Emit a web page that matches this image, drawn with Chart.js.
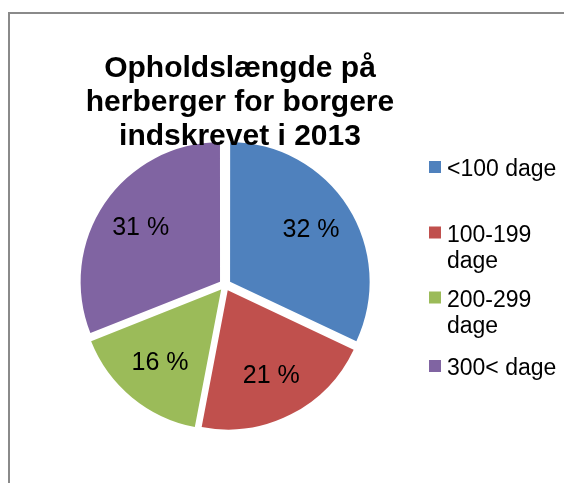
<!DOCTYPE html>
<html>
<head>
<meta charset="utf-8">
<script src="https://cdn.jsdelivr.net/npm/chart.js@4/dist/chart.umd.min.js"></script>
<style>
  html, body { margin: 0; padding: 0; background: #fff; }
  canvas { display: block; }
</style>
</head>
<body>
<canvas id="c" width="564" height="483"></canvas>
<script>
// ---- data ----
const categories = ['<100 dage', '100-199 dage', '200-299 dage', '300< dage'];
const shares = [32, 21, 16, 31];
const colors = ['#4F81BD', '#C0504D', '#9BBB59', '#8064A2'];
const titleLines = ['Opholdslængde på', 'herberger for borgere', 'indskrevet i 2013'];

const FONT = '"Liberation Sans", Arial, sans-serif';

const decor = {
  id: 'decor',
  beforeDraw(chart) {
    const ctx = chart.ctx;
    ctx.save();
    ctx.fillStyle = '#fff';
    ctx.fillRect(0, 0, chart.width, chart.height);
    ctx.strokeStyle = '#8a8a8a';
    ctx.lineWidth = 2;
    ctx.strokeRect(9, 13, 700, 700);
    ctx.restore();
  },
  afterDatasetsDraw(chart) {
    const ctx = chart.ctx;
    const meta = chart.getDatasetMeta(0);
    ctx.save();
    ctx.fillStyle = '#000';
    ctx.font = '25px ' + FONT;
    ctx.textAlign = 'center';
    ctx.textBaseline = 'middle';
    meta.data.forEach((arc, i) => {
      const mid = (arc.startAngle + arc.endAngle) / 2;
      const d = arc.outerRadius * 0.69 + 6;
      ctx.fillText(shares[i] + ' %', arc.x + Math.cos(mid) * d, arc.y + Math.sin(mid) * d);
    });
    ctx.restore();
  },
  afterDraw(chart) {
    const ctx = chart.ctx;
    ctx.save();
    // title
    ctx.fillStyle = '#000';
    ctx.font = 'bold 30px ' + FONT;
    ctx.textAlign = 'center';
    ctx.textBaseline = 'alphabetic';
    titleLines.forEach((t, i) => ctx.fillText(t, 240, 77 + i * 34));
    // legend
    ctx.font = '23px ' + FONT;
    ctx.textAlign = 'left';
    const firstBaselines = [176, 241.5, 306.5, 375];
    const maxW = 118;
    categories.forEach((cat, i) => {
      const y0 = firstBaselines[i];
      ctx.fillStyle = colors[i];
      ctx.fillRect(429, y0 - 15, 12, 12);
      ctx.fillStyle = '#000';
      let lines = [cat];
      if (ctx.measureText(cat).width > maxW) {
        const k = cat.lastIndexOf(' ');
        lines = [cat.slice(0, k), cat.slice(k + 1)];
      }
      lines.forEach((l, j) => ctx.fillText(l, 447, y0 + j * 26.8));
    });
    ctx.restore();
  }
};

new Chart(document.getElementById('c'), {
  type: 'pie',
  data: {
    labels: categories,
    datasets: [{
      data: shares,
      backgroundColor: colors,
      borderWidth: 0,
      offset: 24
    }]
  },
  options: {
    responsive: false,
    animation: false,
    radius: 139,
    layout: { padding: { left: 0, right: 114, top: 87, bottom: 0 } },
    plugins: {
      legend: { display: false },
      title: { display: false },
      tooltip: { enabled: false }
    }
  },
  plugins: [decor]
});
</script>
</body>
</html>
